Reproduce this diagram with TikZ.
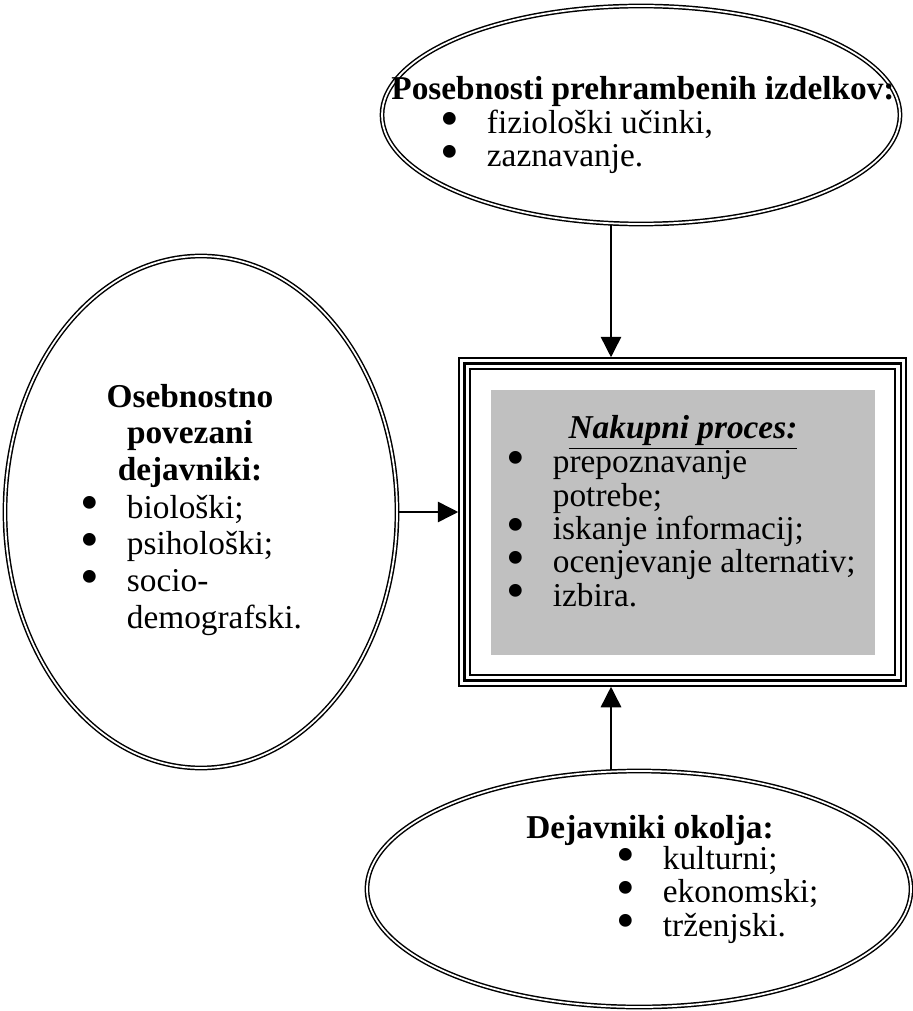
\documentclass[tikz,border=0pt]{standalone}
\usepackage{fontspec}
\usepackage{graphicx}
\setmainfont{Liberation Serif}
\usetikzlibrary{shapes.geometric,arrows.meta,positioning}
\tikzset{>={Triangle[length=8.6pt,width=8.6pt]}}
\definecolor{boxgray}{RGB}{192,192,192}
\newcommand{\itm}[1]{\makebox[19.5pt][l]{\raisebox{-1.2pt}{\scalebox{1.6}{\textbullet}}}#1}
\lineskiplimit=-20pt

\begin{document}
\begin{tikzpicture}[x=0.42pt,y=-0.42pt,
    oval/.style={draw,ellipse,double,line width=0.62pt,double distance=0.75pt,inner sep=0pt},
    txt/.style={font=\fontsize{14}{#1}\selectfont,inner sep=0pt,align=left,anchor=base west},
    txt/.default=13.7pt,
    head/.style={txt,font=\fontsize{14}{#1}\selectfont\bfseries,align=center,anchor=base},
    head/.default=13.7pt]

        \useasboundingbox (0,0) rectangle (912,1011);

        % ellipses
        \node[oval,minimum width=518*0.42pt,minimum height=218*0.42pt] (prod) at (641,115) {};
        \node[oval,minimum width=392*0.42pt,minimum height=512*0.42pt] (oseb) at (201,512) {};
        \node[oval,minimum width=544*0.42pt,minimum height=236*0.42pt] (okol) at (639,889) {};

        % process box
        \node[draw,line width=0.65pt,minimum width=447*0.42pt,minimum height=328*0.42pt] (box) at (682.5,522) {};
        \draw[line width=1.25pt] ([shift={(5.8,5.8)}]box.north west) rectangle ([shift={(-5.8,-5.8)}]box.south east);
        \draw[line width=0.65pt] ([shift={(11.8,11.8)}]box.north west) rectangle ([shift={(-11.8,-11.8)}]box.south east);
        \node[fill=boxgray,minimum width=384*0.42pt,minimum height=265*0.42pt] (proc) at (683,522.5) {};

        % texts (anchored at the baseline of the last line)
        \node[head] (hprod) at (643,100) {Posebnosti prehrambenih izdelkov:};
        \node[txt=13.9pt] (lprod) at (440,167) {\itm{fiziološki učinki,}\\ \itm{zaznavanje.}};

        \node[head=15.3pt] (hoseb) at (190,480) {Osebnostno\\ povezani\\ dejavniki:};
        \node[txt=15.4pt] (loseb) at (80,628) {\itm{biološki;}\\ \itm{psihološki;}\\ \itm{socio-}\\ \hspace{19.5pt}demografski.};

        \node[head] (hproc) at (683,438) {\textit{\underline{Nakupni proces:}}};
        \node[txt=14pt] (lproc) at (506,606) {\itm{prepoznavanje}\\ \hspace{19.5pt}potrebe;\\ \itm{iskanje informacij;}\\ \itm{ocenjevanje alternativ;}\\ \itm{izbira.}};

        \node[head] (hokol) at (650,838) {Dejavniki okolja:};
        \node[txt=13.9pt] (lokol) at (616,936) {\itm{kulturni;}\\ \itm{ekonomski;}\\ \itm{trženjski.}};

        % arrows
        \coordinate (tin) at ([xshift=-71.5*0.42pt]box.north);
        \coordinate (bin) at ([xshift=-71.5*0.42pt]box.south);
        \draw[->,line width=0.65pt] (prod.south -| tin) -- (tin);
        \draw[->,line width=0.65pt] (oseb.east) -- (oseb.east -| box.west);
        \draw[->,line width=0.65pt] (okol.north -| bin) -- (bin);

\end{tikzpicture}
\end{document}
